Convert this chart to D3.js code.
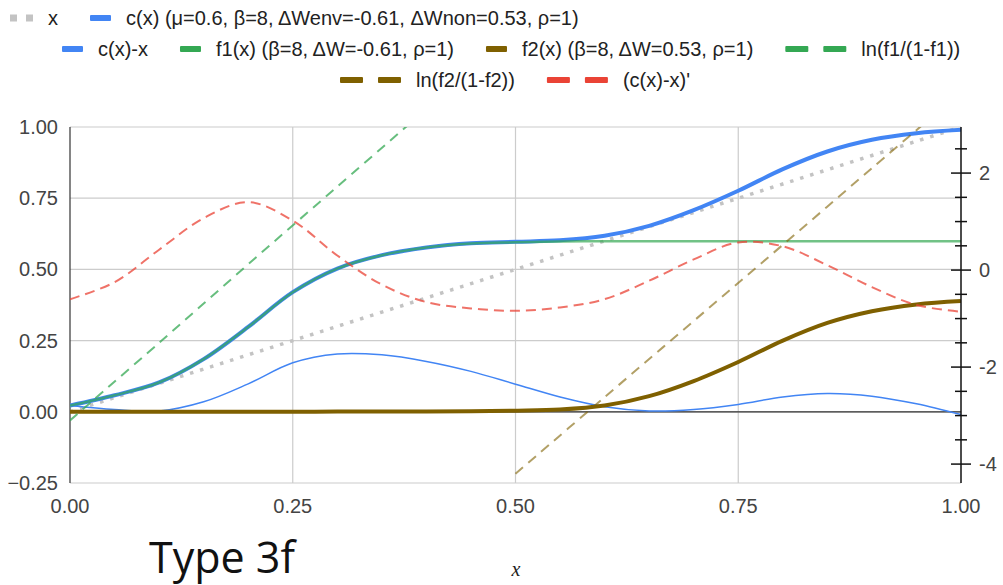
<!DOCTYPE html>
<html>
<head>
<meta charset="utf-8">
<script src="https://cdn.jsdelivr.net/npm/d3@7"></script>
<style>
  body { margin: 0; background: #fff; }
  svg { display: block; font-family: Arial, "Liberation Sans", sans-serif; }
</style>
</head>
<body>
<div id="chart"></div>
<script>
// x positions shared by every series
const xs = [0, 0.05, 0.1, 0.15, 0.2, 0.25, 0.3, 0.35, 0.4, 0.45, 0.5,
            0.55, 0.6, 0.65, 0.7, 0.75, 0.8, 0.85, 0.9, 0.95, 1];

// left axis series
const xLine = [0, 0.05, 0.1, 0.15, 0.2, 0.25, 0.3, 0.35, 0.4, 0.45, 0.5,
               0.55, 0.6, 0.65, 0.7, 0.75, 0.8, 0.85, 0.9, 0.95, 1];
const cx = [0.022, 0.058, 0.103, 0.185, 0.298, 0.42, 0.503, 0.55, 0.577, 0.592, 0.597,
            0.602, 0.618, 0.653, 0.708, 0.776, 0.852, 0.914, 0.955, 0.978, 0.99];
const cxMinusX = [0.022, 0.008, 0.003, 0.035, 0.098, 0.172, 0.203, 0.2, 0.177, 0.142, 0.097,
                  0.052, 0.018, 0.003, 0.008, 0.026, 0.052, 0.064, 0.055, 0.028, -0.01];
const f1 = [0.022, 0.058, 0.103, 0.185, 0.298, 0.42, 0.503, 0.55, 0.577, 0.591, 0.595,
            0.598, 0.599, 0.599, 0.599, 0.599, 0.599, 0.599, 0.599, 0.599, 0.599];
const f2 = [0, 0, 0, 0, 0, 0, 0.001, 0.001, 0.001, 0.002, 0.004,
            0.008, 0.022, 0.055, 0.108, 0.175, 0.25, 0.312, 0.353, 0.377, 0.389];

// right axis series
const lnF1X = [0, 0.1, 0.2, 0.3, 0.4];
const lnF1 = [-3.1, -1.5, 0.12, 1.72, 3.32];
const lnF2X = [0.5, 0.6, 0.7, 0.8, 0.9, 1];
const lnF2 = [-4.2, -2.62, -1.05, 0.52, 2.1, 3.67];
const dcx = [-0.6, -0.25, 0.42, 1.07, 1.4, 1.02, 0.3, -0.3, -0.66, -0.79, -0.84,
             -0.77, -0.6, -0.22, 0.22, 0.57, 0.49, 0.1, -0.35, -0.72, -0.86];

// axis ticks
const xTicks = [0, 0.25, 0.5, 0.75, 1];
const leftTicks = [-0.25, 0, 0.25, 0.5, 0.75, 1];
const rightLabels = [-4, -2, 0, 2];
const rightMinor = d3.range(-4, 2.51, 0.5);

const legendRows = [
  [{ key: 'x', label: 'x' },
   { key: 'c', label: 'c(x) (μ=0.6, β=8, ΔWenv=-0.61, ΔWnon=0.53, ρ=1)' }],
  [{ key: 'cmx', label: 'c(x)-x' },
   { key: 'f1', label: 'f1(x) (β=8, ΔW=-0.61, ρ=1)' },
   { key: 'f2', label: 'f2(x) (β=8, ΔW=0.53, ρ=1)' },
   { key: 'lnf1', label: 'ln(f1/(1-f1))' }],
  [{ key: 'lnf2', label: 'ln(f2/(1-f2))' },
   { key: 'dcx', label: "(c(x)-x)'" }]
];

const width = 1003, height = 585;
const plotLeft = 70, plotRight = 961, plotTop = 127, plotBottom = 483;

const svg = d3.select('#chart').append('svg')
  .attr('width', width)
  .attr('height', height);

const x = d3.scaleLinear().domain([0, 1]).range([plotLeft, plotRight]);
const yL = d3.scaleLinear().domain([-0.25, 1]).range([plotBottom, plotTop]);
const yR = d3.scaleLinear().domain([-4.39, 2.95]).range([plotBottom, plotTop]);

// styles per series
const styles = {
  x:    { color: '#c3c3c3', width: 3.5, dash: '3.5,7', opacity: 1 },
  c:    { color: '#4285F4', width: 4, dash: null, opacity: 1 },
  cmx:  { color: '#4285F4', width: 1.5, dash: null, opacity: 1 },
  f1:   { color: '#34A853', width: 2.5, dash: null, opacity: 0.7 },
  f2:   { color: '#7F6000', width: 4, dash: null, opacity: 1 },
  lnf1: { color: '#34A853', width: 2, dash: '10,7', opacity: 0.75 },
  lnf2: { color: '#7F6000', width: 2, dash: '10,7', opacity: 0.6 },
  dcx:  { color: '#EA4335', width: 2, dash: '10,6', opacity: 0.75 }
};

svg.append('defs').append('clipPath').attr('id', 'plot-clip')
  .append('rect')
  .attr('x', plotLeft).attr('y', plotTop)
  .attr('width', plotRight - plotLeft).attr('height', plotBottom - plotTop);

// gridlines
svg.append('g').selectAll('line')
  .data(leftTicks)
  .enter().append('line')
  .attr('x1', plotLeft).attr('x2', plotRight)
  .attr('y1', d => yL(d)).attr('y2', d => yL(d))
  .attr('stroke', '#cccccc').attr('stroke-width', 1.2);

svg.append('g').selectAll('line')
  .data(xTicks.slice(1, -1))
  .enter().append('line')
  .attr('x1', d => x(d)).attr('x2', d => x(d))
  .attr('y1', plotTop).attr('y2', plotBottom)
  .attr('stroke', '#cccccc').attr('stroke-width', 1.2);

// zero baseline
svg.append('line')
  .attr('x1', plotLeft).attr('x2', plotRight)
  .attr('y1', yL(0)).attr('y2', yL(0))
  .attr('stroke', '#333').attr('stroke-width', 1.2);

// left axis line
svg.append('line')
  .attr('x1', plotLeft).attr('x2', plotLeft)
  .attr('y1', plotTop).attr('y2', plotBottom)
  .attr('stroke', '#333').attr('stroke-width', 1.2);

// series
const plot = svg.append('g').attr('clip-path', 'url(#plot-clip)');

function drawSeries(key, xsArr, vals, yScale) {
  const s = styles[key];
  const pts = xsArr.map((d, i) => [d, vals[i]]);
  const line = d3.line()
    .x(d => x(d[0]))
    .y(d => yScale(d[1]))
    .curve(d3.curveCatmullRom.alpha(0.5));
  plot.append('path')
    .datum(pts)
    .attr('d', line)
    .attr('fill', 'none')
    .attr('stroke', s.color)
    .attr('stroke-width', s.width)
    .attr('stroke-opacity', s.opacity)
    .attr('stroke-dasharray', s.dash)
    .attr('stroke-linecap', 'butt');
}

drawSeries('x', xs, xLine, yL);
drawSeries('c', xs, cx, yL);
drawSeries('cmx', xs, cxMinusX, yL);
drawSeries('f1', xs, f1, yL);
drawSeries('f2', xs, f2, yL);
drawSeries('lnf1', lnF1X, lnF1, yR);
drawSeries('lnf2', lnF2X, lnF2, yR);
drawSeries('dcx', xs, dcx, yR);

// left tick labels
svg.append('g').selectAll('text')
  .data(leftTicks)
  .enter().append('text')
  .attr('x', 58)
  .attr('y', d => yL(d))
  .attr('dy', '0.35em')
  .attr('text-anchor', 'end')
  .style('font-size', '20px')
  .attr('fill', '#444')
  .text(d3.format('.2f'));

// bottom tick labels
svg.append('g').selectAll('text')
  .data(xTicks)
  .enter().append('text')
  .attr('x', d => x(d))
  .attr('y', 513)
  .attr('text-anchor', 'middle')
  .style('font-size', '20px')
  .attr('fill', '#444')
  .text(d3.format('.2f'));

// right axis with crossing ticks
const rAxis = svg.append('g');
rAxis.append('line')
  .attr('x1', plotRight).attr('x2', plotRight)
  .attr('y1', plotTop).attr('y2', plotBottom)
  .attr('stroke', '#111').attr('stroke-width', 1.5);
rAxis.selectAll('line.tick')
  .data(rightMinor)
  .enter().append('line')
  .attr('class', 'tick')
  .attr('x1', d => plotRight - (rightLabels.includes(d) ? 10 : 6))
  .attr('x2', d => plotRight + (rightLabels.includes(d) ? 10 : 6))
  .attr('y1', d => yR(d)).attr('y2', d => yR(d))
  .attr('stroke', '#111').attr('stroke-width', 1.5);
rAxis.selectAll('text')
  .data(rightLabels)
  .enter().append('text')
  .attr('x', 979)
  .attr('y', d => yR(d))
  .attr('dy', '0.35em')
  .style('font-size', '20px')
  .attr('fill', '#444')
  .text(d => d);

// legend
const rowStart = [10, 62, 340];
const rowY = [18, 49, 80];
legendRows.forEach((row, r) => {
  let cursor = rowStart[r];
  row.forEach(item => {
    const s = styles[item.key];
    const g = svg.append('g');
    let sw;
    if (item.key === 'x') {
      [0, 16].forEach(o => g.append('rect')
        .attr('x', cursor + o).attr('y', rowY[r] - 3.5)
        .attr('width', 7).attr('height', 7)
        .attr('fill', s.color));
      sw = 23;
    } else if (s.dash) {
      [0, 38].forEach(o => g.append('rect')
        .attr('x', cursor + o).attr('y', rowY[r] - 3)
        .attr('width', 23).attr('height', 6).attr('rx', 1)
        .attr('fill', s.color));
      sw = 61;
    } else {
      g.append('rect')
        .attr('x', cursor).attr('y', rowY[r] - 3)
        .attr('width', 21).attr('height', 6).attr('rx', 1)
        .attr('fill', s.color);
      sw = 21;
    }
    cursor += sw + 15;
    const t = g.append('text')
      .attr('x', cursor)
      .attr('y', rowY[r])
      .attr('dy', '0.35em')
      .style('font-size', '20px')
      .attr('fill', '#222')
      .text(item.label);
    cursor += t.node().getComputedTextLength() + 32;
  });
});

// caption and axis title
svg.append('text')
  .attr('x', 149).attr('y', 573)
  .style('font-family', '"Open Sans", sans-serif')
  .style('font-size', '43px')
  .attr('fill', '#111')
  .text('Type 3f');

svg.append('text')
  .attr('x', 516).attr('y', 576)
  .attr('text-anchor', 'middle')
  .style('font-family', '"Liberation Serif", serif')
  .style('font-style', 'italic')
  .style('font-size', '20px')
  .attr('fill', '#222')
  .text('x');
</script>
</body>
</html>
